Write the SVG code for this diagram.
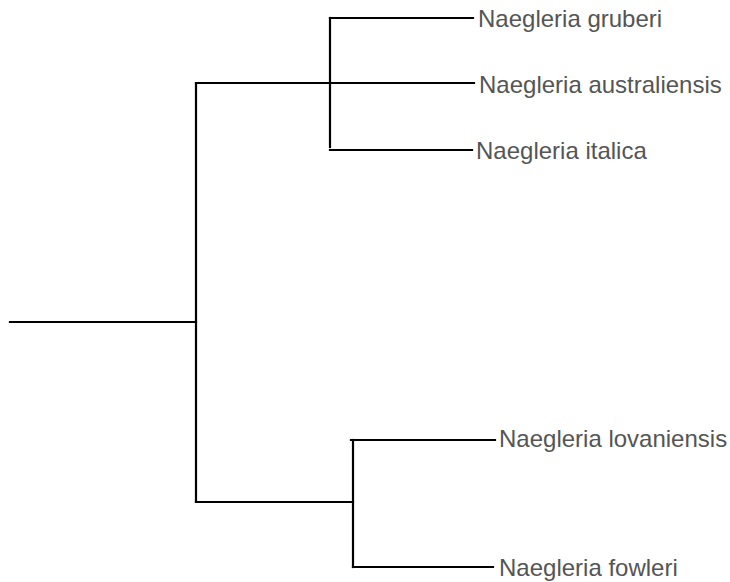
<svg xmlns="http://www.w3.org/2000/svg" width="730" height="582" viewBox="0 0 730 582">
<style>
.edge{stroke:#000;stroke-width:2.2;fill:none;stroke-linecap:square}
.lbl{font-family:"Liberation Sans",Arial,Helvetica,sans-serif;font-size:24px;fill:#555}
</style>
<rect width="730" height="582" fill="#fff"/>
<g id="connectors">
<path class="edge" d="M10,322 H196"/>
<path class="edge" d="M196,83 V502"/>
<path class="edge" d="M196,83 H330"/>
<path class="edge" d="M330,18 V147"/>
<path class="edge" d="M330,18 H473"/>
<path class="edge" d="M330,83 H474"/>
<path class="edge" d="M330,150 H472"/>
<path class="edge" d="M196,502 H353"/>
<path class="edge" d="M353,440 V567"/>
<path class="edge" d="M351,440 H495"/>
<path class="edge" d="M353,567 H493"/>
</g>
<g id="n-gruberi"><text class="lbl" x="478" y="27">Naegleria gruberi</text></g>
<g id="n-australiensis"><text class="lbl" x="479" y="93">Naegleria australiensis</text></g>
<g id="n-italica"><text class="lbl" x="476" y="159">Naegleria italica</text></g>
<g id="n-lovaniensis"><text class="lbl" x="499" y="447">Naegleria lovaniensis</text></g>
<g id="n-fowleri"><text class="lbl" x="499" y="576">Naegleria fowleri</text></g>
</svg>
